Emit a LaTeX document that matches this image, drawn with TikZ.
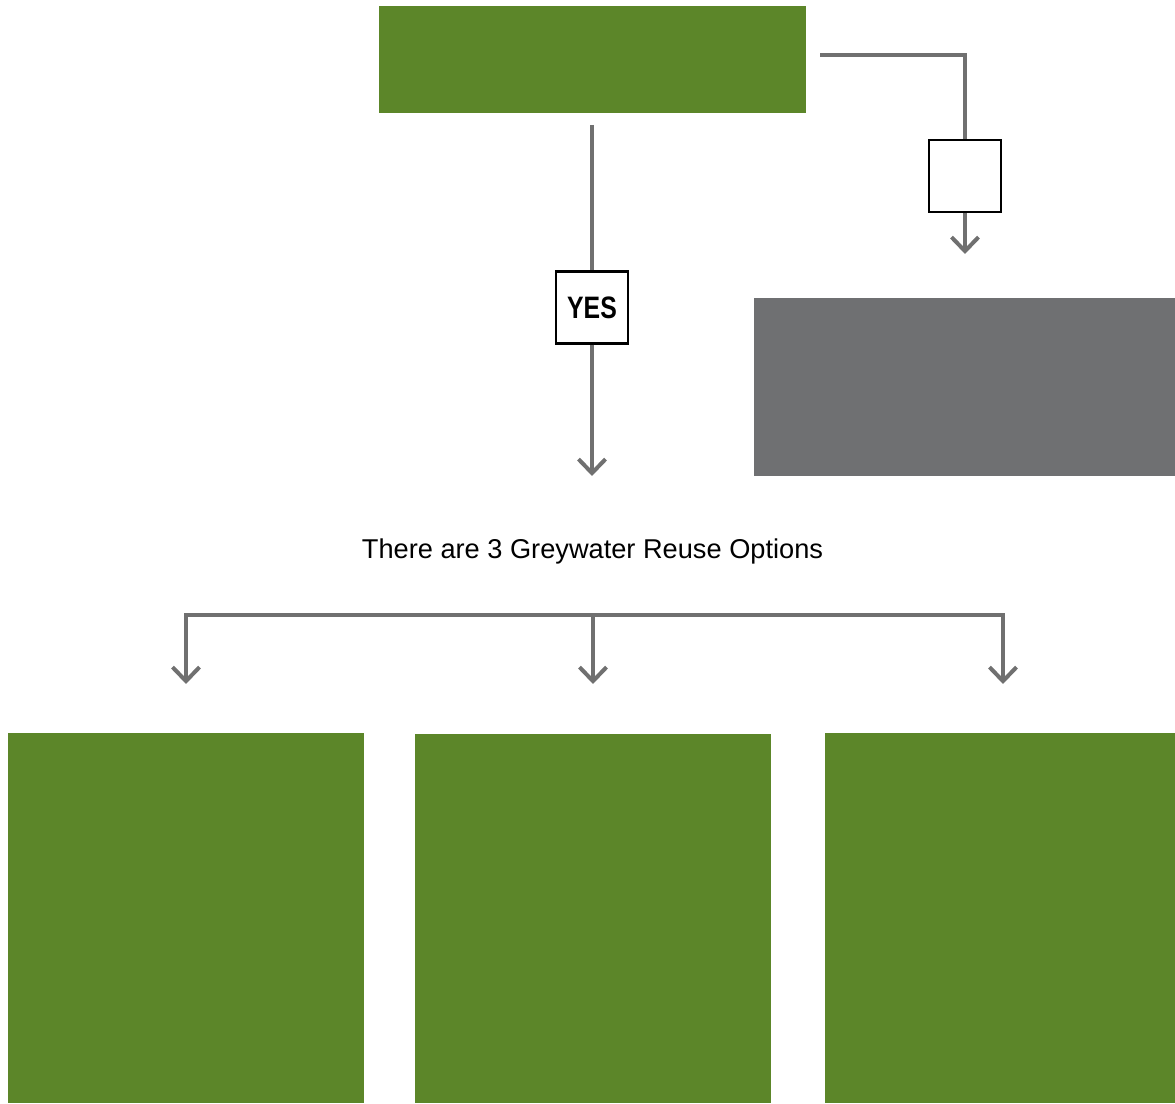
\documentclass[tikz,border=0pt]{standalone}
\usepackage{fontspec}
\setmainfont{Liberation Sans}
\usetikzlibrary{arrows.meta}
\definecolor{leaf}{HTML}{5C8629}
\definecolor{slate}{HTML}{6F7072}
\definecolor{wire}{HTML}{707070}
\tikzset{
  greenbox/.style={draw=none,fill=leaf,inner sep=0pt},
  greybox/.style={draw=none,fill=slate,inner sep=0pt},
  labelbox/.style={draw=black,line width=2.5pt,fill=white,minimum width=72pt,minimum height=72pt,inner sep=0pt},
  conn/.style={draw=wire,line width=4pt},
  arr/.style={conn,-{Straight Barb[length=14pt,width=27pt]}},
}
\begin{document}
\begin{tikzpicture}[x=1pt,y=1pt]
\useasboundingbox (0,0) rectangle (1175,1103);
% boxes
\node[greenbox,minimum width=427pt,minimum height=107pt] (top) at (592.5,1043.5) {};
\node[greybox,minimum width=421pt,minimum height=178pt] (grey) at (964.5,716) {};
\node[greenbox,minimum width=356pt,minimum height=370pt] (b1) at (186,185) {};
\node[greenbox,minimum width=356pt,minimum height=369pt] (b2) at (593,184.5) {};
\node[greenbox,minimum width=350pt,minimum height=370pt] (b3) at (1000,185) {};
\node[labelbox] (yes) at (592,795.5) {\scalebox{0.8}[1]{\fontsize{31pt}{34pt}\selectfont\bfseries YES}};
\node[labelbox] (no) at (965,927) {};
\node[font=\fontsize{27.2pt}{30pt}\selectfont] (txt) at (592.5,552) {There are 3 Greywater Reuse Options};
% connector coordinates
\coordinate (ys) at (592,978);
\coordinate (yt) at (592,627);
\coordinate (rs) at (820,1048);
\coordinate (rc) at (965,1048);
\coordinate (rt) at (965,849);
\coordinate (bl) at (186,488);
\coordinate (bm) at (593,488);
\coordinate (br) at (1003,488);
\coordinate (tl) at (186,419);
\coordinate (tm) at (593,419);
\coordinate (tr) at (1003,419);
% connectors
\draw[conn] (ys) -- (yes.north);
\draw[arr] (yes.south) -- (yt);
\draw[conn] (rs) -- (rc) -- (no.north);
\draw[arr] (no.south) -- (rt);
\draw[conn,line cap=rect] (bl) -- (br);
\draw[arr] (bl) -- (tl);
\draw[arr] (bm) -- (tm);
\draw[arr] (br) -- (tr);
\end{tikzpicture}
\end{document}
